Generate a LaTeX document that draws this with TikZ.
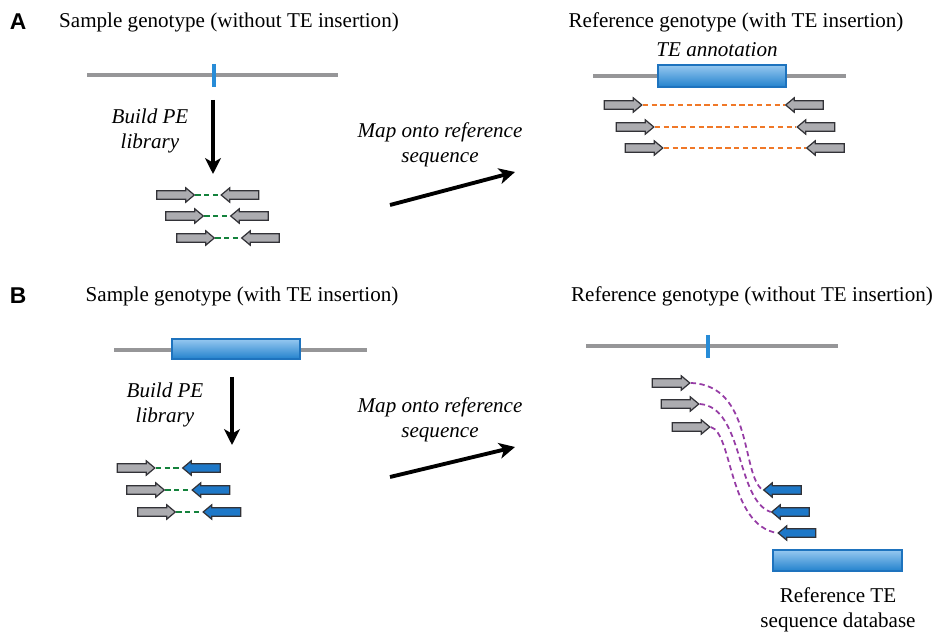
\documentclass[tikz,border=0pt]{standalone}
\usepackage{fontspec}
\setmainfont{Liberation Serif}
\setsansfont{Liberation Sans}
\usepackage{tikz}
\usetikzlibrary{shapes.arrows, arrows.meta, positioning}
\definecolor{chrgray}{RGB}{150,150,152}
\definecolor{tickblue}{RGB}{40,140,215}
\definecolor{tetop}{RGB}{150,200,240}
\definecolor{tebottom}{RGB}{35,130,205}
\definecolor{teedge}{RGB}{30,115,190}
\definecolor{readgray}{RGB}{172,172,176}
\definecolor{readedge}{RGB}{50,50,55}
\definecolor{readblue}{RGB}{30,120,200}
\definecolor{pairgreen}{RGB}{20,130,60}
\definecolor{pairorange}{RGB}{240,120,40}
\definecolor{pairpurple}{RGB}{150,60,165}
\tikzset{
  panel/.style={font=\sffamily\bfseries\fontsize{13}{15}\selectfont},
  note/.style={align=center, font=\itshape\fontsize{12}{14}\selectfont},
  chrom/.style={line width=2.3pt, color=chrgray},
  tick/.style={line width=2.2pt, color=tickblue},
  tebox/.style={rectangle, draw=teedge, top color=tetop, bottom color=tebottom,
    line width=0.7pt, inner sep=0pt, minimum width=2.56cm},
  readR/.style={single arrow, draw=readedge, fill=readgray, line width=0.7pt,
    inner xsep=0pt, inner ysep=2.1pt, single arrow head extend=1.6pt,
    single arrow tip angle=80, minimum height=0.75cm},
  readL/.style={readR, shape border rotate=180},
  blueL/.style={readL, fill=readblue},
  pairdash/.style={dash pattern=on 3pt off 2pt, line width=1pt},
  bigarrow/.style={-{Stealth[length=9pt, width=9pt, inset=2.5pt]}, line width=2.2pt, color=black}
}
\begin{document}
\begin{tikzpicture}[x=0.02cm, y=-0.02cm, font=\fontsize{12}{14}\selectfont]
  \useasboundingbox (0,0) rectangle (936,634);

  % A: sample without insertion
  \node[panel] (labA) at (18,22) {A};
  \node (sampA) at (229,22) {Sample genotype (without TE insertion)};
  \draw[chrom] (87,75) -- (338,75);
  \draw[tick] (214,64) -- (214,87);
  \node[note] (buildA) at (150,131) {Build PE\\library};
  \coordinate (downA1) at (213,100);
  \coordinate (downA2) at (213,174);
  \draw[bigarrow] (downA1) -- (downA2);
  \node[readR] (aR1) at (173,195) {};
  \node[readL] (aL1) at (242.5,195) {};
  \node[readR] (aR2) at (182,216) {};
  \node[readL] (aL2) at (252,216) {};
  \node[readR] (aR3) at (193,238) {};
  \node[readL] (aL3) at (263,238) {};
  \draw[pairdash, pairgreen] (aR1.tip) -- (aL1.tip);
  \draw[pairdash, pairgreen] (aR2.tip) -- (aL2.tip);
  \draw[pairdash, pairgreen] (aR3.tip) -- (aL3.tip);

  \node[note] (mapA) at (440,145) {Map onto reference\\sequence};
  \coordinate (mapA1) at (390,205);
  \coordinate (mapA2) at (515,172);
  \draw[bigarrow] (mapA1) -- (mapA2);

  % A: reference with insertion
  \node (refA) at (736,22) {Reference genotype (with TE insertion)};
  \node[note] (annA) at (717,50) {TE annotation};
  \draw[chrom] (593,76) -- (846,76);
  \node[tebox, minimum height=0.44cm] (teA) at (722,76) {};
  \node[readR] (rR1) at (620.5,105) {};
  \node[readL] (rL1) at (807,105) {};
  \node[readR] (rR2) at (632.5,127) {};
  \node[readL] (rL2) at (818.5,127) {};
  \node[readR] (rR3) at (641.5,148) {};
  \node[readL] (rL3) at (828,148) {};
  \draw[pairdash, pairorange] (rR1.tip) -- (rL1.tip);
  \draw[pairdash, pairorange] (rR2.tip) -- (rL2.tip);
  \draw[pairdash, pairorange] (rR3.tip) -- (rL3.tip);

  % B: sample with insertion
  \node[panel] (labB) at (18,296) {B};
  \node (sampB) at (242,296) {Sample genotype (with TE insertion)};
  \draw[chrom] (114,350) -- (367,350);
  \node[tebox, minimum height=0.4cm] (teB) at (236,349) {};
  \node[note] (buildB) at (165,405) {Build PE\\library};
  \coordinate (downB1) at (232,377);
  \coordinate (downB2) at (232,445);
  \draw[bigarrow] (downB1) -- (downB2);
  \node[readR] (bR1) at (133.5,468) {};
  \node[blueL] (bL1) at (204,468) {};
  \node[readR] (bR2) at (143,490) {};
  \node[blueL] (bL2) at (213.5,490) {};
  \node[readR] (bR3) at (154,512) {};
  \node[blueL] (bL3) at (224.5,512) {};
  \draw[pairdash, pairgreen] (bR1.tip) -- (bL1.tip);
  \draw[pairdash, pairgreen] (bR2.tip) -- (bL2.tip);
  \draw[pairdash, pairgreen] (bR3.tip) -- (bL3.tip);

  \node[note] (mapB) at (440,420) {Map onto reference\\sequence};
  \coordinate (mapB1) at (390,477);
  \coordinate (mapB2) at (515,447);
  \draw[bigarrow] (mapB1) -- (mapB2);

  % B: reference without insertion
  \node (refB) at (752,296) {Reference genotype (without TE insertion)};
  \draw[chrom] (586,346) -- (838,346);
  \draw[tick] (708,335) -- (708,358);
  \node[readR] (sR1) at (668.5,383) {};
  \node[readR] (sR2) at (677.5,404) {};
  \node[readR] (sR3) at (688.5,427) {};
  \node[blueL] (sL1) at (785,490) {};
  \node[blueL] (sL2) at (793,512) {};
  \node[blueL] (sL3) at (799.5,533) {};
  \draw[pairdash, pairpurple] (sR1.tip) .. controls +(63,2) and +(-22,-15) .. (sL1.tip);
  \draw[pairdash, pairpurple] (sR2.tip) .. controls +(44,3) and +(-35,-12) .. (sL2.tip);
  \draw[pairdash, pairpurple] (sR3.tip) .. controls +(22,6) and +(-49,-8) .. (sL3.tip);
  \node[tebox, minimum width=2.58cm, minimum height=0.42cm] (teDB) at (837.5,560.5) {};
  \node[align=center] (dbtxt) at (838,610) {Reference TE\\sequence database};
\end{tikzpicture}
\end{document}
